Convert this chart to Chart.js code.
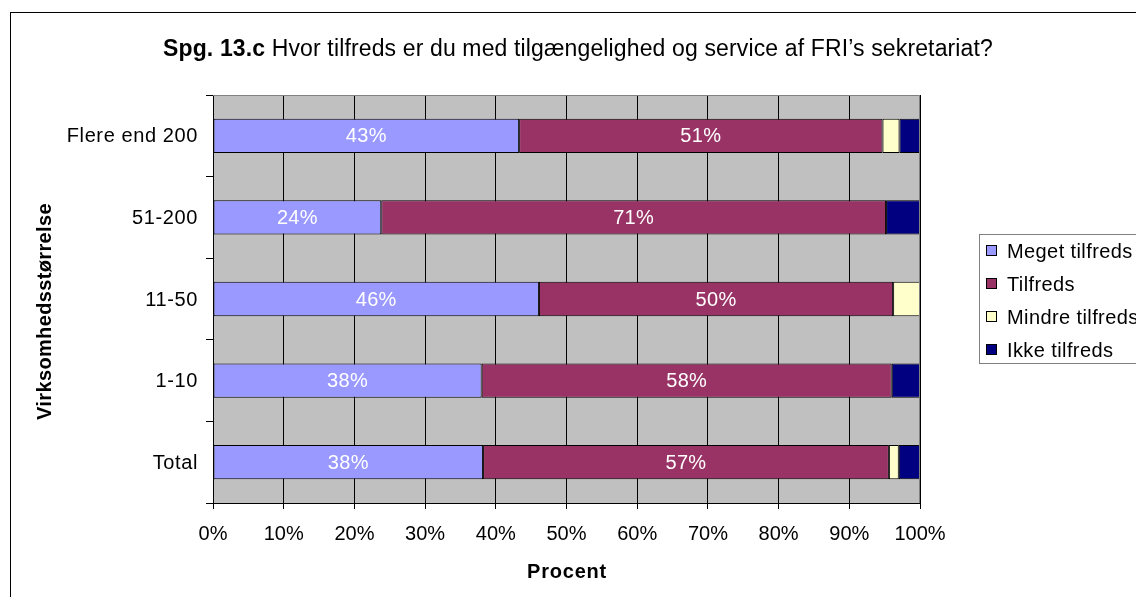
<!DOCTYPE html>
<html lang="da">
<head>
<meta charset="UTF-8">
<title>Spg. 13.c</title>
<style>
  html, body { margin: 0; padding: 0; background: #fff; }
  #wrap { position: relative; width: 1136px; height: 597px; overflow: hidden; }
  #frame { position: absolute; left: 10px; top: 12px; width: 1200px; height: 700px; border: 1px solid #000; box-sizing: border-box; }
  #chart-box { position: absolute; left: 0; top: 0; width: 1136px; height: 597px; }
</style>
</head>
<body>
<div id="wrap">
  <div id="frame"></div>
  <div id="chart-box"><canvas id="myChart"></canvas></div>
</div>

<script src="https://cdn.jsdelivr.net/npm/chart.js"></script>
<script>
  // data (percent)
  const categories = ['Flere end 200', '51-200', '11-50', '1-10', 'Total'];
  const seriesNames = ['Meget tilfreds', 'Tilfreds', 'Mindre tilfreds', 'Ikke tilfreds'];
  const megetTilfreds = [43.3, 23.8, 46.1, 38.0, 38.2];
  const tilfreds      = [51.4, 71.4, 50.1, 58.0, 57.4];
  const mindreTilfreds = [2.4, 0, 3.8, 0, 1.4];
  const ikkeTilfreds  = [2.9, 4.8, 0, 4.0, 3.0];
  const xTicks = [0, 10, 20, 30, 40, 50, 60, 70, 80, 90, 100];

  const colors = ['#9999FF', '#993366', '#FFFFCC', '#000080'];
  const FONT = '"Liberation Sans", Arial, sans-serif';

  // text with letter spacing fitted to a target width
  function fitSpacing(ctx, text, target) {
    ctx.letterSpacing = '0px';
    const w = ctx.measureText(text).width;
    return (target - w) / text.length;
  }

  // gray plot background + titles + value labels + legend
  const extras = {
    id: 'extras',
    beforeDraw(chart) {
      const { ctx, chartArea: a } = chart;
      ctx.save();
      ctx.fillStyle = '#C0C0C0';
      ctx.fillRect(a.left, a.top, a.right - a.left, a.bottom - a.top);
      ctx.restore();
    },
    afterDatasetsDraw(chart) {
      const { ctx } = chart;
      ctx.save();
      ctx.font = '20px ' + FONT;
      ctx.letterSpacing = '0.3px';
      ctx.fillStyle = '#fff';
      ctx.textAlign = 'center';
      ctx.textBaseline = 'middle';
      [0, 1].forEach(di => {
        const meta = chart.getDatasetMeta(di);
        meta.data.forEach((bar, i) => {
          const v = chart.data.datasets[di].data[i];
          const cx = (bar.x + bar.base) / 2;
          ctx.fillText(Math.round(v) + '%', cx, bar.y + 1);
        });
      });
      // plot border on top/right
      const a = chart.chartArea;
      ctx.strokeStyle = '#808080';
      ctx.lineWidth = 1;
      ctx.beginPath();
      ctx.moveTo(a.left, a.top + 0.5);
      ctx.lineTo(a.right - 0.5, a.top + 0.5);
      ctx.lineTo(a.right - 0.5, a.bottom);
      ctx.stroke();
      ctx.restore();
    },
    afterDraw(chart) {
      const { ctx } = chart;
      ctx.save();
      ctx.fillStyle = '#000';
      // chart title, mixed weight, spans x 163..993
      const t1 = 'Spg. 13.c';
      const t2 = ' Hvor tilfreds er du med tilgængelighed og service af FRI\u2019s sekretariat?';
      ctx.textBaseline = 'alphabetic';
      ctx.textAlign = 'left';
      ctx.letterSpacing = '0px';
      ctx.font = 'bold 23px ' + FONT;
      const w1 = ctx.measureText(t1).width;
      ctx.font = '23px ' + FONT;
      const w2 = ctx.measureText(t2).width;
      const sp = (830 - w1 - w2) / (t1.length + t2.length);
      ctx.letterSpacing = sp + 'px';
      ctx.font = 'bold 23px ' + FONT;
      ctx.fillText(t1, 163, 56);
      ctx.font = '23px ' + FONT;
      ctx.fillText(t2, 163 + w1 + sp * t1.length, 56);

      // category labels
      const ys = chart.scales.y;
      ctx.textBaseline = 'middle';
      ctx.font = '20px ' + FONT;
      ctx.letterSpacing = '0.6px';
      ctx.textAlign = 'right';
      categories.forEach((c, i) => {
        ctx.fillText(c, 198, ys.getPixelForValue(i) + 1);
      });

      // axis titles
      ctx.font = 'bold 20px ' + FONT;
      ctx.textAlign = 'left';
      let s = fitSpacing(ctx, 'Procent', 80);
      ctx.letterSpacing = s + 'px';
      ctx.fillText('Procent', 527, 572);
      ctx.translate(45, 420);
      ctx.rotate(-Math.PI / 2);
      s = fitSpacing(ctx, 'Virksomhedsstørrelse', 217);
      ctx.letterSpacing = s + 'px';
      ctx.fillText('Virksomhedsstørrelse', 0, 0);
      ctx.restore();

      // legend
      ctx.save();
      ctx.strokeStyle = '#808080';
      ctx.lineWidth = 1;
      ctx.fillStyle = '#fff';
      ctx.fillRect(979.5, 234.5, 200, 129);
      ctx.strokeRect(979.5, 234.5, 200, 129);
      ctx.font = '20px ' + FONT;
      ctx.letterSpacing = '0.4px';
      ctx.textAlign = 'left';
      ctx.textBaseline = 'middle';
      seriesNames.forEach((name, i) => {
        const y = Math.round(251 + i * 33);
        ctx.fillStyle = colors[i];
        ctx.fillRect(986.5, y - 5.5, 10, 10);
        ctx.strokeStyle = '#000';
        ctx.strokeRect(986.5, y - 5.5, 10, 10);
        ctx.fillStyle = '#000';
        ctx.fillText(name, 1007, y + 1);
      });
      ctx.restore();
    }
  };

  const ctx = document.getElementById('myChart').getContext('2d');
  const chart = new Chart(ctx, {
    type: 'bar',
    data: {
      labels: categories,
      datasets: [megetTilfreds, tilfreds, mindreTilfreds, ikkeTilfreds].map((d, i) => ({
        label: seriesNames[i],
        data: d,
        backgroundColor: colors[i],
        borderColor: '#000',
        borderWidth: 1,
        borderSkipped: false,
        barPercentage: 0.42,
        categoryPercentage: 1
      }))
    },
    options: {
      indexAxis: 'y',
      responsive: true,
      maintainAspectRatio: false,
      animation: false,
      layout: { padding: { left: 0, top: 95, right: 216, bottom: 0 } },
      plugins: {
        legend: { display: false },
        title: { display: false },
        tooltip: { enabled: false }
      },
      scales: {
        x: {
          stacked: true,
          min: 0,
          max: 100,
          afterFit(s) { s.height = 94; },
          afterBuildTicks(s) { s.ticks = xTicks.map(v => ({ value: v })); },
          border: { color: '#000', width: 1 },
          grid: { color: '#000', lineWidth: 1, tickLength: 6 },
          ticks: {
            padding: 13,
            color: '#000',
            font: { family: FONT, size: 20 },
            callback: v => v + '%'
          }
        },
        y: {
          stacked: true,
          afterFit(s) { s.width = 213; },
          border: { color: '#000', width: 1 },
          grid: { offset: true, drawOnChartArea: false, color: '#000', tickLength: 7 },
          ticks: { display: false }
        }
      }
    },
    plugins: [extras]
  });
</script>
</body>
</html>
